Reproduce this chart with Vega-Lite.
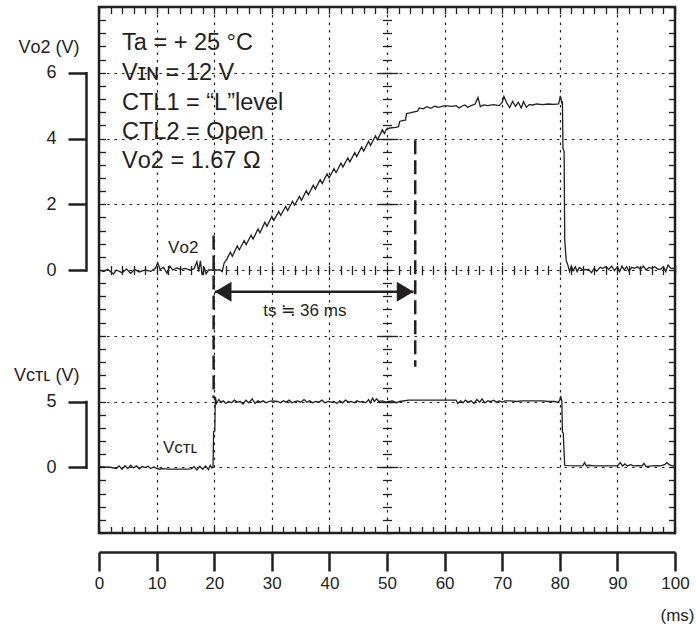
{
  "$schema": "https://vega.github.io/schema/vega-lite/v6.json",
  "width": 576,
  "height": 526,
  "autosize": {"type": "none"},
  "padding": {"left": 99, "top": 7, "right": 21, "bottom": 94},
  "background": "white",
  "config": {
    "view": {"stroke": "#231f20", "strokeWidth": 2.5},
    "font": "Liberation Sans",
    "axis": {"labelFont": "Liberation Sans", "titleFont": "Liberation Sans", "labelColor": "#231f20", "titleColor": "#231f20", "tickColor": "#231f20", "domainColor": "#231f20", "gridColor": "#231f20", "titleFontWeight": "normal", "labelFlush": false, "labelOverlap": false},
    "text": {"font": "Liberation Sans", "color": "#231f20"}
  },
  "datasets": {
    "vo2": [
      {"t":0,"v":0},{"t":0.8,"v":-0.05},{"t":1.5,"v":0.02},{"t":2.5,"v":-0.12},{"t":3,"v":0},{"t":4,"v":-0.08},{"t":4.8,"v":0.03},{"t":5.5,"v":-0.1},{"t":6.2,"v":0.02},{"t":7,"v":-0.06},{"t":8,"v":0},{"t":9,"v":-0.04},{"t":9.8,"v":0.05},{"t":10.2,"v":0.22},{"t":10.6,"v":0.02},{"t":11.2,"v":0.08},{"t":11.8,"v":-0.1},{"t":12.3,"v":0.12},{"t":12.8,"v":0},{"t":13.5,"v":0.06},{"t":14.2,"v":0.02},{"t":15,"v":0.05},{"t":15.8,"v":0},{"t":16.5,"v":0.04},{"t":17,"v":0.25},{"t":17.3,"v":-0.05},{"t":17.6,"v":0.28},{"t":17.9,"v":-0.15},{"t":18.3,"v":0.05},{"t":18.6,"v":-0.12},{"t":19,"v":0},{"t":20,"v":0},{"t":21,"v":0},{"t":21.4,"v":-0.05},{"t":21.7,"v":0.2},{"t":22.2,"v":0.33},
      {"t":22.8,"v":0.54},{"t":23.15,"v":0.42},{"t":24.0,"v":0.73},{"t":24.35,"v":0.61},{"t":25.2,"v":0.89},{"t":25.55,"v":0.77},{"t":26.4,"v":1.06},{"t":26.75,"v":0.94},{"t":27.6,"v":1.25},{"t":27.95,"v":1.13},{"t":28.8,"v":1.45},{"t":29.15,"v":1.33},{"t":30.0,"v":1.63},{"t":30.35,"v":1.51},{"t":31.2,"v":1.78},{"t":31.55,"v":1.66},{"t":32.4,"v":1.93},{"t":32.75,"v":1.81},{"t":33.6,"v":2.09},{"t":33.95,"v":1.97},{"t":34.8,"v":2.24},{"t":35.15,"v":2.12},{"t":36.0,"v":2.41},{"t":36.35,"v":2.29},{"t":37.2,"v":2.58},{"t":37.55,"v":2.46},{"t":38.4,"v":2.75},{"t":38.75,"v":2.63},{"t":39.6,"v":2.92},{"t":39.95,"v":2.8},{"t":40.8,"v":3.08},{"t":41.15,"v":2.96},{"t":42.0,"v":3.25},{"t":42.35,"v":3.13},{"t":43.2,"v":3.41},{"t":43.55,"v":3.29},{"t":44.4,"v":3.57},{"t":44.75,"v":3.45},{"t":45.6,"v":3.74},{"t":45.95,"v":3.62},{"t":46.8,"v":3.91},{"t":47.15,"v":3.79},{"t":48.0,"v":4.08},{"t":48.35,"v":3.96},{"t":49.2,"v":4.27},{"t":49.55,"v":4.15},{"t":49.9,"v":4.28},{"t":50.5,"v":4.32},{"t":51.5,"v":4.34},{"t":52.0,"v":4.36},{"t":52.2,"v":4.52},{"t":52.8,"v":4.55},{"t":53.2,"v":4.56},{"t":53.4,"v":4.76},{"t":54.0,"v":4.78},{"t":54.5,"v":4.8},{"t":55.3,"v":4.83},{"t":55.6,"v":4.93},{"t":56.3,"v":4.9},{"t":56.9,"v":4.97},{"t":57.6,"v":4.92},{"t":58.3,"v":4.98},{"t":59.0,"v":4.95},{"t":59.8,"v":4.99},{"t":60.5,"v":4.99},{"t":61.3,"v":4.98},{"t":62.0,"v":5.0},{"t":62.5,"v":4.93},{"t":63.0,"v":4.98},{"t":63.5,"v":5.02},{"t":64.0,"v":4.95},{"t":64.6,"v":5.0},{"t":65.3,"v":5.05},{"t":65.8,"v":5.25},{"t":66.2,"v":4.97},{"t":66.8,"v":5.02},{"t":67.5,"v":5.0},{"t":68.5,"v":5.03},{"t":69.5,"v":5.0},{"t":70.0,"v":5.1},{"t":70.3,"v":5.28},{"t":70.8,"v":5.08},{"t":71.3,"v":4.94},{"t":71.8,"v":5.13},{"t":72.3,"v":4.98},{"t":72.8,"v":5.1},{"t":73.3,"v":4.93},{"t":73.7,"v":5.12},{"t":74.2,"v":4.95},{"t":74.7,"v":5.03},{"t":75.3,"v":5.02},{"t":76.0,"v":5.05},{"t":77.0,"v":5.03},{"t":78.0,"v":5.05},{"t":79.0,"v":5.04},{"t":79.8,"v":5.05},{"t":80.1,"v":5.3},{"t":80.35,"v":5.08},{"t":80.45,"v":5.1},{"t":80.55,"v":3.7},{"t":80.75,"v":3.6},{"t":80.85,"v":0.95},{"t":81.1,"v":0.3},{"t":81.4,"v":0.15},
      {"t":81.7,"v":-0.05},{"t":82.0,"v":0.12},{"t":82.3,"v":-0.02},{"t":82.7,"v":0.1},{"t":83.0,"v":-0.05},{"t":83.4,"v":0.08},{"t":84,"v":0},{"t":85,"v":0.02},{"t":85.5,"v":-0.08},{"t":86,"v":0.05},{"t":86.4,"v":-0.04},{"t":87,"v":0.08},{"t":87.5,"v":0.05},{"t":88,"v":0.1},{"t":88.5,"v":0.02},{"t":89,"v":0.12},{"t":89.5,"v":-0.02},{"t":90,"v":0.1},{"t":90.4,"v":-0.05},{"t":90.8,"v":0.12},{"t":91.2,"v":0},{"t":91.6,"v":0.1},{"t":92,"v":-0.04},{"t":92.5,"v":0.08},{"t":93,"v":0.05},{"t":93.5,"v":0.1},{"t":94,"v":0.02},{"t":94.5,"v":0.12},{"t":95,"v":0},{"t":95.5,"v":0.08},{"t":96,"v":0.05},{"t":96.5,"v":0.1},{"t":97,"v":0.03},{"t":97.5,"v":0.02},{"t":98,"v":0.1},{"t":98.4,"v":-0.05},{"t":98.8,"v":0.15},{"t":99.3,"v":0.05},{"t":100,"v":0.05}
    ],
    "vctl": [
      {"t":0,"v":0.05},{"t":2,"v":0},{"t":3,"v":-0.1},{"t":3.5,"v":0.1},{"t":4,"v":-0.15},{"t":4.5,"v":0.12},{"t":5,"v":-0.1},{"t":5.5,"v":0.15},{"t":6,"v":-0.05},{"t":6.5,"v":0.1},{"t":7,"v":-0.12},{"t":7.5,"v":0.05},{"t":8,"v":-0.02},{"t":8.5,"v":0.08},{"t":9,"v":-0.1},{"t":9.5,"v":0.02},{"t":10,"v":-0.08},{"t":10.5,"v":-0.15},{"t":11,"v":-0.1},{"t":12,"v":-0.15},{"t":13,"v":-0.15},{"t":14,"v":-0.15},{"t":15,"v":-0.14},{"t":16,"v":-0.12},{"t":16.5,"v":0.05},{"t":17,"v":-0.2},{"t":17.5,"v":0.08},{"t":18,"v":-0.15},{"t":18.5,"v":0.1},{"t":19,"v":-0.18},{"t":19.3,"v":0.15},{"t":19.6,"v":-0.05},{"t":19.8,"v":0.05},{"t":19.9,"v":2.7},{"t":20.1,"v":2.75},{"t":20.2,"v":5.35},
      {"t":20.4,"v":4.85},{"t":20.8,"v":5.15},{"t":21.2,"v":4.95},{"t":21.6,"v":5.05},{"t":22,"v":4.85},{"t":22.5,"v":5.0},{"t":23,"v":4.9},{"t":23.5,"v":5.1},{"t":24,"v":4.95},{"t":24.5,"v":5.0},{"t":25,"v":4.8},{"t":25.5,"v":5.1},{"t":26,"v":4.9},{"t":26.6,"v":5.2},{"t":27.1,"v":4.85},{"t":27.6,"v":5.05},{"t":28,"v":4.95},{"t":28.5,"v":5.05},{"t":29,"v":4.9},{"t":29.5,"v":5.0},{"t":30,"v":5.05},{"t":31,"v":5.0},{"t":31.5,"v":4.9},{"t":32,"v":5.05},{"t":32.5,"v":4.95},{"t":33,"v":5.1},{"t":33.5,"v":4.9},{"t":34,"v":5.0},{"t":34.5,"v":5.05},{"t":35,"v":4.95},{"t":35.6,"v":5.15},{"t":36.1,"v":4.95},{"t":36.6,"v":5.05},{"t":37.1,"v":4.9},{"t":37.6,"v":5.0},{"t":38.2,"v":4.95},{"t":38.7,"v":5.1},{"t":39.2,"v":4.9},{"t":39.8,"v":5.0},{"t":40.3,"v":4.95},{"t":40.8,"v":5.0},{"t":41.3,"v":4.85},{"t":41.8,"v":5.05},{"t":42.3,"v":4.9},{"t":42.8,"v":5.1},{"t":43.3,"v":4.95},{"t":43.8,"v":5.0},{"t":44.3,"v":4.9},{"t":44.8,"v":5.05},{"t":45.3,"v":4.95},{"t":45.8,"v":5.0},{"t":46.3,"v":4.9},{"t":46.8,"v":5.15},{"t":47.1,"v":4.9},{"t":47.5,"v":5.25},{"t":47.8,"v":5.0},{"t":48.2,"v":5.2},{"t":48.6,"v":5.0},{"t":49.2,"v":5.05},{"t":49.8,"v":4.95},{"t":50.3,"v":5.0},{"t":51,"v":5.05},{"t":51.6,"v":4.9},{"t":52.2,"v":5.0},{"t":53.8,"v":5.1},{"t":62.0,"v":5.1},{"t":62.3,"v":4.85},{"t":62.8,"v":5.05},{"t":63.2,"v":4.9},{"t":63.6,"v":5.1},{"t":64.1,"v":4.95},{"t":64.6,"v":5.05},{"t":65.1,"v":4.85},{"t":65.6,"v":5.15},{"t":66.1,"v":4.95},{"t":66.5,"v":5.2},{"t":67,"v":4.9},{"t":67.5,"v":5.05},{"t":68,"v":5.0},{"t":68.5,"v":5.1},{"t":69,"v":4.95},{"t":69.5,"v":5.05},{"t":70,"v":4.95},{"t":70.5,"v":5.05},{"t":71.5,"v":5.05},{"t":72.5,"v":5.0},{"t":73.5,"v":5.05},{"t":75,"v":5.05},{"t":77,"v":5.05},{"t":78,"v":5.0},{"t":79,"v":5.0},{"t":79.7,"v":4.95},{"t":80.0,"v":5.1},{"t":80.15,"v":5.4},{"t":80.35,"v":5.05},{"t":80.45,"v":2.7},{"t":80.6,"v":2.6},{"t":80.85,"v":0.15},
      {"t":81.5,"v":0.12},{"t":83,"v":0.1},{"t":84,"v":0.12},{"t":84.3,"v":0.35},{"t":84.6,"v":0.1},{"t":85,"v":0.15},{"t":86,"v":0.1},{"t":88,"v":0.1},{"t":90,"v":0.1},{"t":90.5,"v":0.35},{"t":90.9,"v":0.1},{"t":91.3,"v":0.25},{"t":91.7,"v":0.1},{"t":92.3,"v":0.2},{"t":92.8,"v":0.1},{"t":93.5,"v":0.12},{"t":94.3,"v":0.1},{"t":94.6,"v":0.3},{"t":95,"v":0.05},{"t":96,"v":0.1},{"t":97,"v":0.12},{"t":97.5,"v":0.1},{"t":98.2,"v":0.2},{"t":98.6,"v":0.35},{"t":99,"v":0.2},{"t":99.5,"v":0.1},{"t":100,"v":0.1}
    ],
    "conditions": [
      {"t":4,"v":6.68,"label":"Ta = + 25 °C"},
      {"t":4,"v":5.78,"label":"Vɪɴ = 12 V"},
      {"t":4,"v":4.88,"label":"CTL1 = “L”level"},
      {"t":4,"v":3.98,"label":"CTL2 = Open"},
      {"t":4,"v":3.09,"label":"Vᴏ2 = 1.67 Ω"}
    ],
    "labels": [
      {"t":12,"v":0.67,"label":"Vᴏ2"},
      {"t":11.1,"v":-5.41,"label":"Vᴄᴛʟ"}
    ],
    "span_label": [
      {"t":28.5,"v":-1.25,"label":"ts ≒ 36 ms"}
    ],
    "markers": [
      {"t":19.9,"v1":1.05,"v2":-3.9},
      {"t":54.9,"v1":3.95,"v2":-2.94}
    ],
    "span": [{"t1":20.1,"t2":54.6,"v":-0.66}],
    "heads": [
      {"t":20.1,"v":-0.66,"dir":"left"},
      {"t":54.6,"v":-0.66,"dir":"right"}
    ]
  },
  "resolve": {"scale": {"y": "independent"}, "axis": {"x": "independent", "y": "independent"}},
  "layer": [
    {
      "data": {"name": "vo2"},
      "mark": {"type": "line", "color": "#231f20", "strokeWidth": 1.3, "interpolate": "linear"},
      "encoding": {
        "x": {"field": "t", "type": "quantitative", "scale": {"domain": [0, 100], "nice": false, "zero": false},
          "axis": {"orient": "bottom", "offset": 19, "values": [0,10,20,30,40,50,60,70,80,90,100], "tickSize": 19, "tickWidth": 2.5, "domainWidth": 2.5, "labelFontSize": 17, "labelPadding": 4, "grid": false, "title": "(ms)", "titleFontSize": 17, "titleX": 595, "titleY": 63, "titleAlign": "right", "titleBaseline": "middle"}},
        "y": {"field": "v", "type": "quantitative", "scale": {"domain": [0, 6], "range": [263, 65.75], "nice": false, "zero": false},
          "axis": {"orient": "left", "offset": 13, "values": [0,2,4,6], "tickSize": 18, "tickWidth": 2.5, "domainWidth": 2.5, "domainCap": "square", "labelFontSize": 18, "labelPadding": 12, "grid": false, "title": "Vᴏ2 (V)", "titleFontSize": 18, "titleAngle": 0, "titleAlign": "right", "titleBaseline": "middle", "titleX": -7, "titleY": 40}}
      }
    },
    {
      "data": {"name": "vctl"},
      "mark": {"type": "line", "color": "#231f20", "strokeWidth": 1.3},
      "encoding": {
        "x": {"field": "t", "type": "quantitative", "scale": {"domain": [0, 100], "nice": false, "zero": false}, "axis": null},
        "y": {"field": "v", "type": "quantitative", "scale": {"domain": [0, 5], "range": [460.25, 394.5], "nice": false, "zero": false},
          "axis": {"orient": "left", "offset": 13, "values": [0,5], "tickSize": 18, "tickWidth": 2.5, "domainWidth": 2.5, "domainCap": "square", "labelFontSize": 18, "labelPadding": 12, "grid": false, "title": "Vᴄᴛʟ (V)", "titleFontSize": 18, "titleAngle": 0, "titleAlign": "right", "titleBaseline": "middle", "titleX": -7, "titleY": 368}}
      }
    },
    {
      "resolve": {"axis": {"x": "independent", "y": "independent"}},
      "layer": [
        {
          "data": {"name": "markers"},
          "mark": {"type": "rule", "color": "#231f20", "strokeWidth": 2.5, "strokeDash": [14, 6]},
          "encoding": {
            "x": {"field": "t", "type": "quantitative", "scale": {"domain": [0, 100], "nice": false, "zero": false},
              "axis": {"orient": "bottom", "values": [10,20,30,40,50,60,70,80,90], "grid": true, "gridDash": [2.5, 5], "gridWidth": 1.2, "ticks": false, "labels": false, "domain": false, "title": null}},
            "y": {"field": "v1", "type": "quantitative", "scale": {"domain": [-8, 8], "nice": false, "zero": false},
              "axis": {"orient": "left", "values": [-6,-4,-2,0,2,4,6], "grid": true, "gridDash": [2.5, 5], "gridWidth": 1.2, "ticks": false, "labels": false, "domain": false, "title": null}},
            "y2": {"field": "v2"}
          }
        },
        {
          "data": {"name": "span"},
          "mark": {"type": "rule", "color": "#231f20", "strokeWidth": 2.5},
          "encoding": {
            "x": {"field": "t1", "type": "quantitative", "scale": {"domain": [0, 100], "nice": false, "zero": false},
              "axis": {"orient": "top", "offset": -6.5, "values": [0,2,4,6,8,10,12,14,16,18,20,22,24,26,28,30,32,34,36,38,40,42,44,46,48,50,52,54,56,58,60,62,64,66,68,70,72,74,76,78,80,82,84,86,88,90,92,94,96,98,100], "tickSize": 6.5, "tickWidth": 1.3, "labels": false, "domain": false, "grid": false, "title": null}},
            "x2": {"field": "t2"},
            "y": {"field": "v", "type": "quantitative", "scale": {"domain": [-8, 8], "nice": false, "zero": false},
              "axis": {"orient": "left", "offset": -6.5, "values": [-8,-7.6,-7.2,-6.8,-6.4,-6,-5.6,-5.2,-4.8,-4.4,-4,-3.6,-3.2,-2.8,-2.4,-2,-1.6,-1.2,-0.8,-0.4,0,0.4,0.8,1.2,1.6,2,2.4,2.8,3.2,3.6,4,4.4,4.8,5.2,5.6,6,6.4,6.8,7.2,7.6,8], "tickSize": 6.5, "tickWidth": 1.3, "labels": false, "domain": false, "grid": false, "title": null}}
          }
        },
        {
          "data": {"name": "heads"},
          "mark": {"type": "point", "filled": true, "color": "#231f20", "opacity": 1, "size": 400, "strokeWidth": 0},
          "encoding": {
            "x": {"field": "t", "type": "quantitative", "scale": {"domain": [0, 100], "nice": false, "zero": false},
              "axis": {"orient": "bottom", "offset": -6.5, "values": [0,2,4,6,8,10,12,14,16,18,20,22,24,26,28,30,32,34,36,38,40,42,44,46,48,50,52,54,56,58,60,62,64,66,68,70,72,74,76,78,80,82,84,86,88,90,92,94,96,98,100], "tickSize": 6.5, "tickWidth": 1.3, "labels": false, "domain": false, "grid": false, "title": null}},
            "y": {"field": "v", "type": "quantitative", "scale": {"domain": [-8, 8], "nice": false, "zero": false},
              "axis": {"orient": "right", "offset": -6.5, "values": [-8,-7.6,-7.2,-6.8,-6.4,-6,-5.6,-5.2,-4.8,-4.4,-4,-3.6,-3.2,-2.8,-2.4,-2,-1.6,-1.2,-0.8,-0.4,0,0.4,0.8,1.2,1.6,2,2.4,2.8,3.2,3.6,4,4.4,4.8,5.2,5.6,6,6.4,6.8,7.2,7.6,8], "tickSize": 6.5, "tickWidth": 1.3, "labels": false, "domain": false, "grid": false, "title": null}},
            "shape": {"field": "dir", "type": "nominal", "scale": {"domain": ["left", "right"], "range": ["M0,0L1.67,-1L1.67,1Z", "M0,0L-1.67,-1L-1.67,1Z"]}, "legend": null}
          }
        },
        {
          "data": {"name": "conditions"},
          "mark": {"type": "text", "align": "left", "baseline": "alphabetic", "fontSize": 23.5, "font": "Liberation Sans, DejaVu Sans", "color": "#231f20"},
          "encoding": {
            "x": {"field": "t", "type": "quantitative", "scale": {"domain": [0, 100], "nice": false, "zero": false},
              "axis": {"orient": "bottom", "offset": -267.5, "values": [0,2,4,6,8,10,12,14,16,18,20,22,24,26,28,30,32,34,36,38,40,42,44,46,48,50,52,54,56,58,60,62,64,66,68,70,72,74,76,78,80,82,84,86,88,90,92,94,96,98,100], "tickSize": 9, "tickWidth": 1.3, "labels": false, "domain": false, "grid": false, "title": null}},
            "y": {"field": "v", "type": "quantitative", "scale": {"domain": [-8, 8], "nice": false, "zero": false},
              "axis": {"orient": "left", "offset": -292.5, "values": [-8,-7.6,-7.2,-6.8,-6.4,-6,-5.6,-5.2,-4.8,-4.4,-4,-3.6,-3.2,-2.8,-2.4,-2,-1.6,-1.2,-0.8,-0.4,0,0.4,0.8,1.2,1.6,2,2.4,2.8,3.2,3.6,4,4.4,4.8,5.2,5.6,6,6.4,6.8,7.2,7.6,8], "tickSize": 9, "tickWidth": 1.3, "labels": false, "domain": false, "grid": false, "title": null}},
            "text": {"field": "label"}
          }
        },
        {
          "data": {"name": "labels"},
          "mark": {"type": "text", "align": "left", "baseline": "middle", "fontSize": 17, "font": "Liberation Sans, DejaVu Sans", "color": "#231f20"},
          "encoding": {
            "x": {"field": "t", "type": "quantitative", "scale": {"domain": [0, 100], "nice": false, "zero": false}, "axis": null},
            "y": {"field": "v", "type": "quantitative", "scale": {"domain": [-8, 8], "nice": false, "zero": false},
              "axis": {"orient": "left", "offset": -298.5, "values": [-6,-4,-2,2,4,6], "tickSize": 21, "tickWidth": 1.3, "labels": false, "domain": false, "grid": false, "title": null}},
            "text": {"field": "label"}
          }
        },
        {
          "data": {"name": "span_label"},
          "mark": {"type": "text", "align": "left", "baseline": "middle", "fontSize": 17, "font": "Liberation Sans, DejaVu Sans", "color": "#231f20"},
          "encoding": {
            "x": {"field": "t", "type": "quantitative", "scale": {"domain": [0, 100], "nice": false, "zero": false}, "axis": null},
            "y": {"field": "v", "type": "quantitative", "scale": {"domain": [-8, 8], "nice": false, "zero": false}, "axis": null},
            "text": {"field": "label"}
          }
        }
      ]
    }
  ]
}
